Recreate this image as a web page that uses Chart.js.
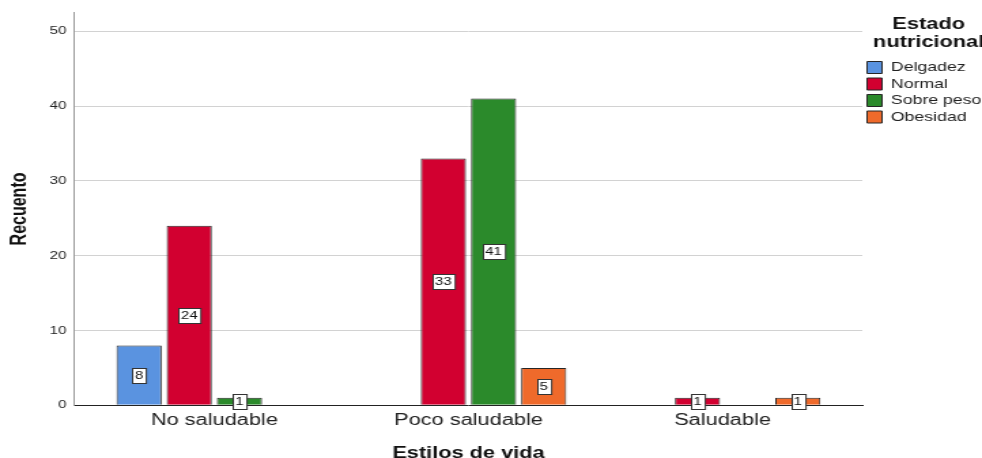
<!DOCTYPE html>
<html>
<head>
<meta charset="utf-8">
<script src="https://cdn.jsdelivr.net/npm/chart.js@4.4.1/dist/chart.umd.min.js"></script>
<style>
  html, body { margin: 0; padding: 0; background: #fff; }
  #c { display: block; }
</style>
</head>
<body>
<canvas id="c" width="722" height="458" style="width:982px;height:458px"></canvas>
<script>
// categories and counts per estado nutricional (null = no bar)
const categories = ["No saludable", "Poco saludable", "Saludable"];
const seriesNames = ["Delgadez", "Normal", "Sobre peso", "Obesidad"];
const delgadez = [8, null, null];
const normal = [24, 33, 1];
const sobrePeso = [1, 41, null];
const obesidad = [null, 5, 1];
const yTicks = [0, 10, 20, 30, 40, 50];

const colors = ["#5a93e0", "#d20030", "#2b8a2b", "#ef6a2b"];
const allSeries = [delgadez, normal, sobrePeso, obesidad];
const FONT = "'Liberation Sans', Arial, sans-serif";

// white value boxes in the middle of each bar
const valueBoxes = {
  id: "valueBoxes",
  afterDatasetsDraw(chart) {
    const ctx = chart.ctx;
    ctx.save();
    ctx.font = "11px " + FONT;
    ctx.textAlign = "center";
    ctx.textBaseline = "middle";
    chart.data.datasets.forEach((ds, di) => {
      const meta = chart.getDatasetMeta(di);
      meta.data.forEach((bar, i) => {
        const v = ds.data[i].y;
        if (v === null) return;
        const cy = (bar.y + bar.base) / 2;
        const txt = String(v);
        const w = ctx.measureText(txt).width + 4;
        const h = 15;
        const x0 = Math.round(bar.x - w / 2) + 0.5;
        const y0 = Math.round(cy - h / 2) + 0.5;
        ctx.fillStyle = "#fff";
        ctx.fillRect(x0, y0, w, h);
        ctx.strokeStyle = "#333";
        ctx.lineWidth = 1;
        ctx.strokeRect(x0, y0, w, h);
        ctx.fillStyle = "#111";
        ctx.fillText(txt, bar.x, cy + 0.5);
      });
    });
    ctx.restore();
  }
};

new Chart(document.getElementById("c"), {
  type: "bar",
  data: {
    datasets: seriesNames.map((name, s) => ({
      label: name,
      data: categories.map((c, i) => ({ x: i + 1, y: allSeries[s][i] })),
      backgroundColor: colors[s],
      borderColor: "#262626",
      borderWidth: 1,
      categoryPercentage: 0.79,
      barPercentage: 0.9
    }))
  },
  options: {
    responsive: false,
    devicePixelRatio: 1,
    animation: false,
    layout: { padding: { left: 2, top: 12, right: -9.5, bottom: -4 } },
    plugins: {
      tooltip: { enabled: false },
      legend: {
        position: "right",
        align: "start",
        title: {
          display: true,
          text: ["Estado", "nutricional"],
          color: "#111",
          font: { family: FONT, size: 16, weight: "bold", lineHeight: 1.125 },
          padding: { top: 5, bottom: 22.5 }
        },
        labels: {
          boxWidth: 11,
          boxHeight: 12,
          padding: 3.5,
          color: "#222",
          font: { family: FONT, size: 13 }
        }
      }
    },
    scales: {
      x: {
        type: "linear",
        offset: false,
        min: 0.45,
        max: 3.55,
        afterBuildTicks: (s) => { s.ticks = categories.map((c, i) => ({ value: i + 1 })); },
        grid: { display: false, drawTicks: false, offset: false },
        border: { display: true, color: "#222", width: 1 },
        ticks: {
          callback: (v) => categories[v - 1],
          color: "#222",
          padding: 6,
          autoSkip: false,
          maxRotation: 0,
          font: { family: FONT, size: 16 }
        },
        title: {
          display: true,
          text: "Estilos de vida",
          color: "#111",
          font: { family: FONT, size: 16, weight: "bold", lineHeight: 1 },
          padding: { top: 9.5, bottom: 0 }
        }
      },
      y: {
        min: 0,
        max: 52.5,
        afterBuildTicks: (s) => { s.ticks = yTicks.map((v) => ({ value: v })); },
        grid: {
          drawTicks: false,
          color: (c) => (c.tick && c.tick.value === 0 ? "rgba(0,0,0,0)" : "#d2d2d2")
        },
        border: { display: true, color: "#999", width: 1 },
        ticks: {
          color: "#222",
          padding: 6,
          font: { family: FONT, size: 11 }
        },
        title: {
          display: true,
          text: "Recuento",
          color: "#111",
          font: { family: FONT, size: 16, weight: "bold" },
          padding: { top: 3, bottom: 6.4 }
        }
      }
    }
  },
  plugins: [valueBoxes]
});
</script>
</body>
</html>
